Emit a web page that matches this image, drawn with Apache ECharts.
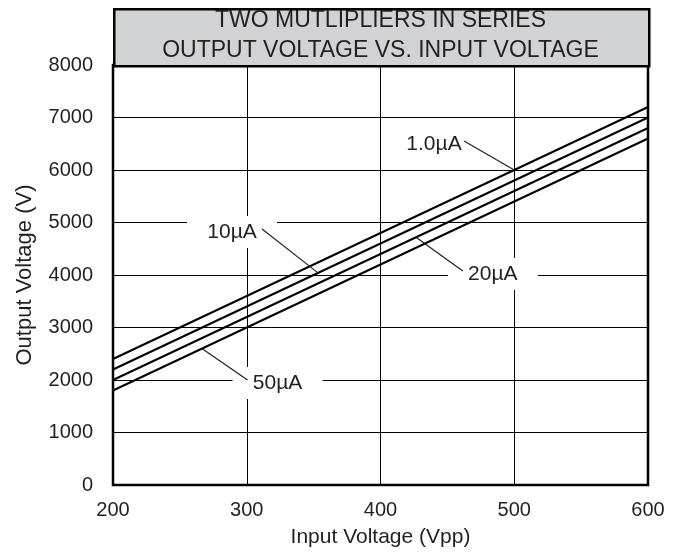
<!DOCTYPE html>
<html><head><meta charset="utf-8">
<script src="https://cdn.jsdelivr.net/npm/echarts@6/dist/echarts.min.js"></script>
<style>html,body{margin:0;padding:0;background:#fff}#c{width:683px;height:554px}</style>
</head><body><div id="c"></div>
<script>
// ---- data ----
const inputVoltage = [200, 300, 400, 500, 600];
const out_1uA  = [2400, 3600, 4800, 6000, 7200];
const out_10uA = [2200, 3400, 4600, 5800, 7000];
const out_20uA = [2000, 3200, 4400, 5600, 6800];
const out_50uA = [1800, 3000, 4200, 5400, 6600];
const seriesNames = ['1.0µA', '10µA', '20µA', '50µA'];
const xAxisRange = { min: 200, max: 600, interval: 100 };
const yAxisRange = { min: 0, max: 8000, interval: 1000 };
const titleLines = ['TWO MUTLIPLIERS IN SERIES', 'OUTPUT VOLTAGE VS. INPUT VOLTAGE'];
const xName = 'Input Voltage (Vpp)';
const yName = 'Output Voltage (V)';
// annotation anchors (data coords): label centre and point on curve
const labelAt = [[440, 6495], [289, 4819], [484, 4019], [323, 1943]];
const labelTarget = [[500, 6000], [353.3, 4040], [426.5, 4718], [266.5, 2598]];

const INK = '#231f20';
const FONT = '"Liberation Sans", Arial, sans-serif';
const G = { left: 113, right: 35, top: 65, bottom: 69 };

const chart = echarts.init(document.getElementById('c'), null, { renderer: 'canvas' });
const allSeries = [out_1uA, out_10uA, out_20uA, out_50uA];

const lineSeries = allSeries.map((vals, i) => ({
  name: seriesNames[i],
  type: 'line',
  data: inputVoltage.map((x, k) => [x, vals[k]]),
  symbol: 'none',
  lineStyle: { color: '#000', width: 2 },
  z: 3
}));

const annoSeries = {
  type: 'custom',
  z: 4,
  data: labelAt.map((p, i) => [p[0], p[1], labelTarget[i][0], labelTarget[i][1]]),
  encode: { x: 0, y: 1 },
  clip: false,
  renderItem: function (params, api) {
    const i = params.dataIndex;
    const c = api.coord([api.value(0), api.value(1)]);
    const t = api.coord([api.value(2), api.value(3)]);
    const dir = t[0] > c[0] ? 1 : -1;
    const sx = c[0] + dir * 30, sy = c[1] - 3;
    return {
      type: 'group',
      children: [
        { type: 'rect', shape: { x: c[0] - 45, y: c[1] - 16, width: 90, height: 32 }, style: { fill: '#fff' } },
        { type: 'line', shape: { x1: sx, y1: sy, x2: t[0], y2: t[1] }, style: { stroke: INK, lineWidth: 1.2 } },
        { type: 'text', style: { text: seriesNames[i], x: c[0], y: c[1], align: 'center', verticalAlign: 'middle', font: '21px ' + FONT, fill: INK } }
      ]
    };
  }
};

chart.setOption({
  animation: false,
  backgroundColor: '#fff',
  grid: { left: G.left, right: G.right, top: G.top, bottom: G.bottom, show: true, borderColor: '#000', borderWidth: 2.5, backgroundColor: 'transparent', z: 5 },
  xAxis: {
    type: 'value', min: xAxisRange.min, max: xAxisRange.max, interval: xAxisRange.interval,
    name: xName, nameLocation: 'middle', nameGap: 42,
    nameTextStyle: { color: INK, fontSize: 21, fontFamily: FONT },
    axisLine: { show: false }, axisTick: { show: false },
    axisLabel: { color: INK, fontSize: 20, fontFamily: FONT, margin: 15, formatter: v => String(v) },
    splitLine: { show: true, lineStyle: { color: '#000', width: 1 } }
  },
  yAxis: {
    type: 'value', min: yAxisRange.min, max: yAxisRange.max, interval: yAxisRange.interval,
    name: yName, nameLocation: 'middle', nameGap: 77,
    nameTextStyle: { color: INK, fontSize: 22, fontFamily: FONT },
    axisLine: { show: false }, axisTick: { show: false },
    axisLabel: { color: INK, fontSize: 20, fontFamily: FONT, margin: 20, formatter: v => String(v) },
    splitLine: { show: true, lineStyle: { color: '#000', width: 1 } }
  },
  graphic: [
    { type: 'rect', left: G.left, top: 8, shape: { x: 0, y: 0, width: 683 - G.left - G.right, height: G.top - 8 },
      style: { fill: '#d1d2d4', stroke: '#000', lineWidth: 2.5 }, z: 10 },
    { type: 'text', x: G.left + (683 - G.left - G.right) / 2, y: 21, z: 11,
      style: { text: titleLines[0], align: 'center', verticalAlign: 'middle', font: '23px ' + FONT, fill: INK } },
    { type: 'text', x: G.left + (683 - G.left - G.right) / 2, y: 51, z: 11,
      style: { text: titleLines[1], align: 'center', verticalAlign: 'middle', font: '23px ' + FONT, fill: INK } }
  ],
  series: lineSeries.concat([annoSeries])
});
</script></body></html>
